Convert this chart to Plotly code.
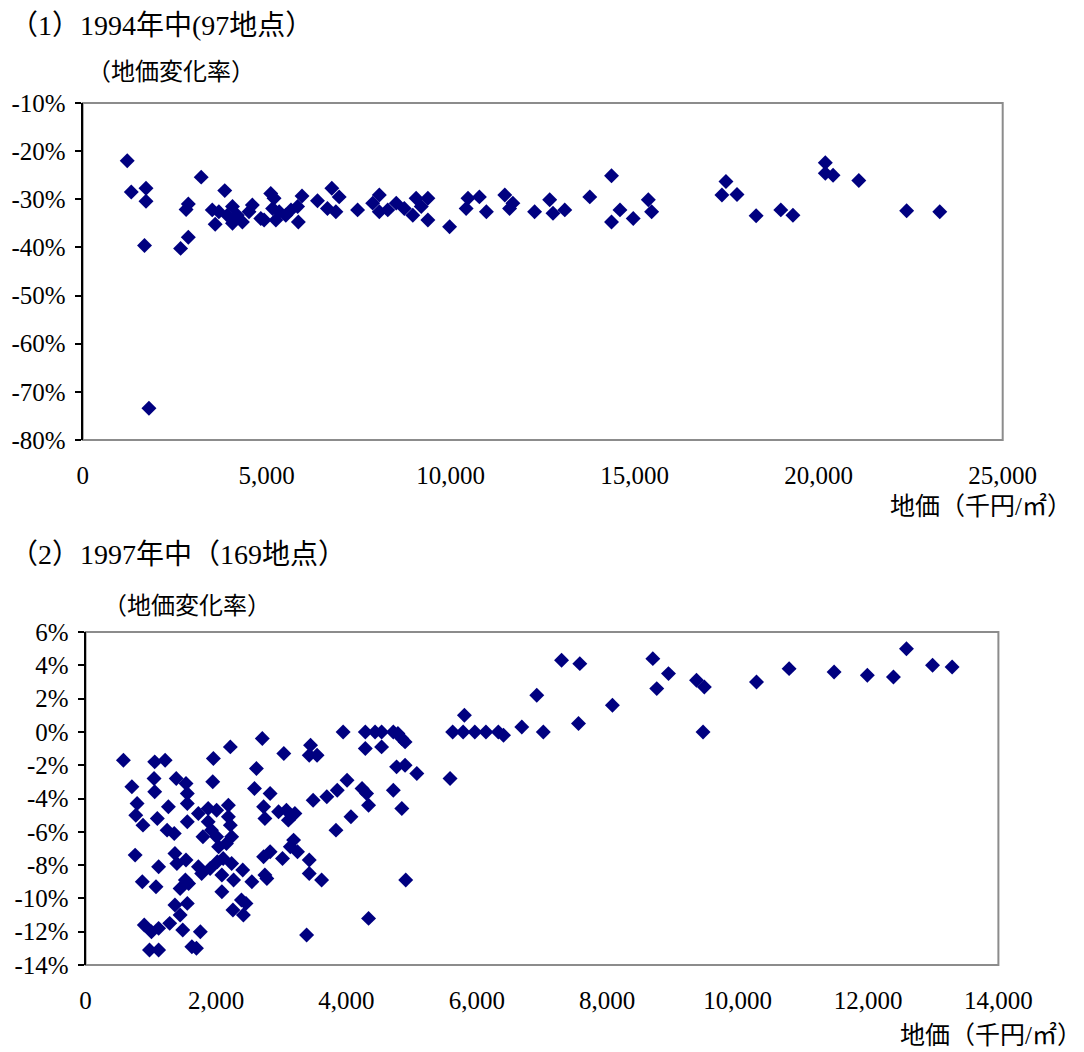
import plotly.graph_objects as go

# ---------------- Data: (1) 1994 ----------------
price_1994 = [1210, 1320, 1720, 1720, 1680, 1800, 2660, 2870, 2810, 2870, 3220, 3860, 3600, 3520, 3700,
              4070, 4070, 3930, 4200, 4340, 4610, 4520, 4840, 4930, 5110, 5200, 5160, 5250, 5340, 5520,
              5660, 5840, 5960, 5860, 6380, 6650, 6770, 6970, 6880, 7470, 7880, 8060, 8060, 8290, 8520,
              8740, 9060, 8970, 9200, 9380, 9380, 9970, 10470, 10420, 10780, 10970, 11470, 11600, 11690,
              12280, 12690, 12780, 13100, 13780, 14370, 14370, 14600, 14960, 15370, 15460, 17480, 17370,
              17780, 18300, 18970, 19300, 20180, 20180, 20390, 21090, 22390, 23290]
change_1994 = [-22.0, -28.5, -27.7, -30.4, -39.6, -73.4, -40.2, -37.9, -32.1, -31.0, -25.4, -28.2, -35.2, -32.2, -32.6,
               -31.5, -35.0, -33.3, -33.3, -34.7, -31.2, -32.6, -34.0, -34.3, -28.8, -29.8, -31.9, -34.3, -32.6, -33.3,
               -32.2, -31.5, -29.3, -34.7, -30.3, -31.9, -27.7, -29.5, -32.6, -32.2, -30.8, -29.1, -32.6, -32.2, -30.8,
               -31.9, -29.8, -33.3, -31.5, -29.8, -34.3, -35.7, -29.8, -31.9, -29.5, -32.6, -29.1, -31.9, -30.8,
               -32.6, -30.1, -32.9, -32.2, -29.5, -25.1, -34.7, -32.2, -34.0, -30.1, -32.6, -26.3, -29.1,
               -29.0, -33.4, -32.2, -33.3, -22.4, -24.6, -25.0, -26.1, -32.4, -32.6]

x_ticks_1994 = [0, 5000, 10000, 15000, 20000, 25000]
x_ticklabels_1994 = ["0", "5,000", "10,000", "15,000", "20,000", "25,000"]
y_ticks_1994 = [-10, -20, -30, -40, -50, -60, -70, -80]
y_ticklabels_1994 = ["-10%", "-20%", "-30%", "-40%", "-50%", "-60%", "-70%", "-80%"]

# ---------------- Data: (2) 1997 ----------------
price_1997 = [580, 1060, 1220, 1960, 2220, 2710, 3040, 2620, 710, 1050, 1060, 1390, 1540, 1560, 1560, 1950,
              2590, 2830, 790, 770, 880, 1100, 1270, 1250, 1360, 1560, 1730, 1880, 2010, 2190, 1880, 1930,
              2190, 2220, 1800, 2010, 2040, 2160, 2240, 2730, 2750, 2960, 3080, 3110, 3210, 3190, 3140,
              760, 1370, 1400, 1540, 1730, 1780, 1910, 2020, 2110, 2240, 2730, 2830, 3020, 1120, 870, 1080,
              1450, 1530, 1580, 2090, 2090, 2270, 2410, 2550, 2750, 2780, 1370, 1560, 1450, 2260, 2390, 2460,
              2420, 900, 1010, 1120, 1290, 1490, 1760, 980, 1120, 1630, 1700,
              3950, 4290, 4440, 4540, 4720, 4790, 4850, 4900, 5630, 5790, 5970, 6140, 6330, 6410, 5810, 6690,
              7020, 6920, 7300, 7580, 7560, 8080, 8700, 8940, 8760, 9370, 9490, 9470, 10290, 10790, 11480,
              11990, 12390, 12590, 12990, 13290,
              4290, 4540, 4770, 4900, 5080, 5590, 3450, 3430, 3550, 4010, 3860, 3700, 3490, 4240, 4310, 4340,
              4720, 4850, 4070, 3840, 3250, 3430, 3430, 3620, 4910, 4340, 3390]
change_1997 = [-1.7, -1.8, -1.7, -1.6, -0.9, -0.4, -1.3, -2.2, -3.3, -2.8, -3.6, -2.8, -3.1, -3.7, -4.3, -3.0,
               -3.4, -3.7, -4.3, -5.0, -5.6, -5.2, -4.5, -5.9, -6.1, -5.4, -4.9, -4.6, -4.7, -4.4, -5.4, -5.9,
               -5.1, -5.6, -6.3, -6.3, -6.9, -6.7, -6.3, -4.5, -5.2, -4.8, -4.7, -5.3, -4.9, -6.5, -6.9,
               -7.4, -7.3, -7.9, -7.7, -8.1, -8.5, -8.2, -7.8, -7.6, -7.9, -7.5, -7.2, -7.6, -8.1, -9.0, -9.3,
               -9.4, -8.9, -9.1, -8.6, -9.6, -8.9, -8.3, -9.0, -8.6, -8.8, -10.4, -10.3, -11.0, -10.7, -10.1, -10.3,
               -11.0, -11.6, -12.0, -11.8, -11.5, -11.9, -12.0, -13.1, -13.1, -12.9, -13.0,
               0.0, 0.0, 0.0, 0.0, 0.0, -0.1, -0.4, -0.6, 0.0, 0.0, 0.0, 0.0, 0.0, -0.2, 1.0, 0.3,
               0.0, 2.2, 4.3, 4.1, 0.5, 1.6, 4.4, 3.5, 2.6, 3.1, 2.7, 0.0, 3.0, 3.8, 3.6,
               3.4, 3.3, 5.0, 4.0, 3.9,
               -1.0, -0.9, -2.1, -2.0, -2.5, -2.8, -0.8, -1.4, -1.4, -2.9, -3.5, -3.9, -4.1, -3.4, -3.7, -4.4,
               -3.5, -4.6, -5.1, -5.9, -7.2, -7.7, -8.5, -8.9, -8.9, -11.2, -12.2]

x_ticks_1997 = [0, 2000, 4000, 6000, 8000, 10000, 12000, 14000]
x_ticklabels_1997 = ["0", "2,000", "4,000", "6,000", "8,000", "10,000", "12,000", "14,000"]
y_ticks_1997 = [6, 4, 2, 0, -2, -4, -6, -8, -10, -12, -14]
y_ticklabels_1997 = ["6%", "4%", "2%", "0%", "-2%", "-4%", "-6%", "-8%", "-10%", "-12%", "-14%"]

title_1994 = "（1）1994年中(97地点）"
title_1997 = "（2）1997年中（169地点）"
y_title = "（地価変化率）"
x_title = "地価（千円/㎡）"

# ---------------- Layout helpers ----------------
OFF = 8  # page body margin
W, H = 1084 - OFF, 1052 - OFF
def px(x):
    return (x - OFF) / W
def py(y):
    return 1 - (y - OFF) / H

FONT = "Liberation Serif, Noto Sans CJK JP, serif"
NAVY = "#000080"
marker = dict(symbol="diamond", size=11.5, color=NAVY, line=dict(width=0))

fig = go.Figure()
fig.add_trace(go.Scatter(x=price_1994, y=change_1994, mode="markers", marker=marker,
                         xaxis="x", yaxis="y", showlegend=False, hoverinfo="x+y"))
fig.add_trace(go.Scatter(x=price_1997, y=change_1997, mode="markers", marker=marker,
                         xaxis="x2", yaxis="y2", showlegend=False, hoverinfo="x+y"))

top_dom_x = [px(82.7), px(1002.7)]
top_dom_y = [py(440), py(103)]
bot_dom_x = [px(85.6), px(998.4)]
bot_dom_y = [py(965), py(632)]
zero_pos = bot_dom_y[0] + (0 - (-14)) / 20 * (bot_dom_y[1] - bot_dom_y[0])

tickfont = dict(family=FONT, size=25, color="black")
common = dict(showgrid=False, zeroline=False, automargin=False)

fig.update_layout(
    template="none",
    width=W, height=H,
    margin=dict(l=0, r=0, t=0, b=0, pad=0, autoexpand=False),
    paper_bgcolor="white", plot_bgcolor="white",
    font=dict(family=FONT, color="black"),
    showlegend=False,
    xaxis=dict(domain=top_dom_x, anchor="y", range=[0, 25000], tickvals=x_ticks_1994,
               ticktext=x_ticklabels_1994, showline=False, ticks="",
               tickfont=tickfont, ticklabelstandoff=18, **common),
    yaxis=dict(domain=top_dom_y, anchor="x", range=[-80, -10], tickvals=y_ticks_1994,
               ticktext=y_ticklabels_1994, showline=True, linecolor="black", linewidth=2,
               ticks="outside", ticklen=6, tickwidth=1.5, tickcolor="black",
               tickfont=tickfont, ticklabelstandoff=4, **common),
    xaxis3=dict(overlaying="x", side="top", anchor="y", range=[0, 25000], tickvals=x_ticks_1994,
                showticklabels=False, showline=True, linecolor="black", linewidth=2,
                ticks="outside", ticklen=7, tickwidth=1.5, tickcolor="black", **common),
    xaxis2=dict(domain=bot_dom_x, anchor="y2", range=[0, 14000], tickvals=x_ticks_1997,
                ticktext=x_ticklabels_1997, showline=False, ticks="",
                tickfont=tickfont, ticklabelstandoff=18, **common),
    yaxis2=dict(domain=bot_dom_y, anchor="x2", range=[-14, 6], tickvals=y_ticks_1997,
                ticktext=y_ticklabels_1997, showline=True, linecolor="black", linewidth=2,
                ticks="outside", ticklen=6, tickwidth=1.5, tickcolor="black",
                tickfont=tickfont, ticklabelstandoff=4, **common),
    xaxis4=dict(overlaying="x2", side="top", anchor="free", position=zero_pos, range=[0, 14000],
                tickvals=x_ticks_1997, showticklabels=False, showline=True, linecolor="black",
                linewidth=2, ticks="outside", ticklen=7, tickwidth=1.5, tickcolor="black", **common),
    shapes=[
        dict(type="rect", xref="x domain", yref="y domain", x0=0, x1=1, y0=0, y1=1,
             line=dict(color="#8c8c8c", width=2), layer="below"),
        dict(type="rect", xref="x2 domain", yref="y2 domain", x0=0, x1=1, y0=0, y1=1,
             line=dict(color="#8c8c8c", width=2), layer="below"),
    ],
    annotations=[
        dict(text=title_1994, xref="paper", yref="paper", x=px(8), y=py(25), xanchor="left",
             yanchor="middle", showarrow=False, font=dict(family=FONT, size=28, color="black")),
        dict(text=y_title, xref="paper", yref="paper", x=px(85), y=py(72), xanchor="left",
             yanchor="middle", showarrow=False, font=dict(family=FONT, size=24, color="black")),
        dict(text=x_title, xref="paper", yref="paper", x=px(1074), y=py(506), xanchor="right",
             yanchor="middle", showarrow=False, font=dict(family=FONT, size=25, color="black")),
        dict(text=title_1997, xref="paper", yref="paper", x=px(8), y=py(554), xanchor="left",
             yanchor="middle", showarrow=False, font=dict(family=FONT, size=28, color="black")),
        dict(text=y_title, xref="paper", yref="paper", x=px(101), y=py(606), xanchor="left",
             yanchor="middle", showarrow=False, font=dict(family=FONT, size=24, color="black")),
        dict(text=x_title, xref="paper", yref="paper", x=px(1084), y=py(1035), xanchor="right",
             yanchor="middle", showarrow=False, font=dict(family=FONT, size=25, color="black")),
    ],
)

fig.write_html("out.html")
